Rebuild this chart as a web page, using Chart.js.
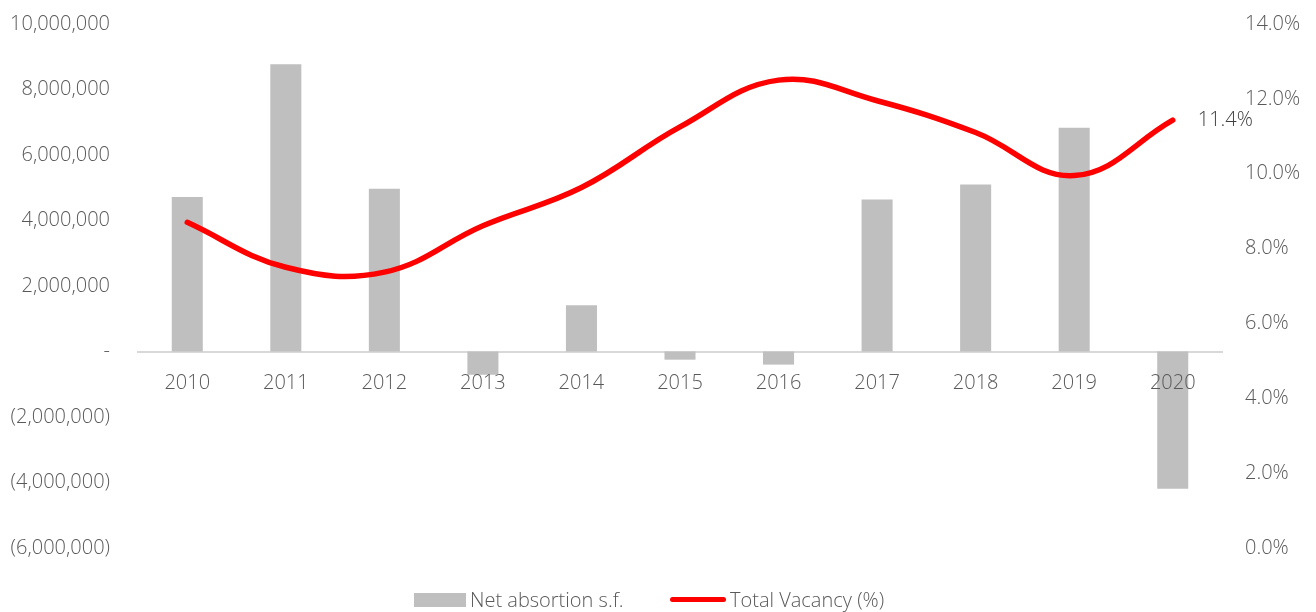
<!DOCTYPE html>
<html>
<head>
<meta charset="utf-8">
<script src="https://cdn.jsdelivr.net/npm/chart.js@4"></script>
<style>
  html, body { margin: 0; padding: 0; background: #ffffff; }
  #wrap { width: 1316px; height: 612px; position: relative; overflow: hidden; }
  #c { position: absolute; left: 0; top: -16px; }
  .lg { position: absolute; font-family: 'Open Sans', 'Liberation Sans', sans-serif; font-weight: 300; font-size: 20px; color: #595959; line-height: 24px; white-space: nowrap; }
  .sw-bar { position: absolute; background: #bfbfbf; width: 52px; height: 14px; }
  .sw-line { position: absolute; background: #ff0000; width: 56px; height: 5px; border-radius: 3px; }
</style>
</head>
<body>
<div id="wrap">
  <canvas id="c" width="1316" height="628"></canvas>
  <div id="legend"></div>
</div>
<script>
const categories = ["2010","2011","2012","2013","2014","2015","2016","2017","2018","2019","2020"];
const netAbsorption = [4720000, 8770000, 4970000, -710000, 1410000, -250000, -400000, 4640000, 5100000, 6830000, -4190000];
const totalVacancy = [8.70, 7.50, 7.37, 8.61, 9.63, 11.25, 12.50, 11.95, 11.10, 9.95, 11.43];
const lastLabel = "11.4%";
const seriesNames = ["Net absortion s.f.", "Total Vacancy (%)"];

const FONT = "'Open Sans', 'Liberation Sans', sans-serif";
const TEXT = "#595959";

function fmtLeft(v) {
  if (v === 0) return "-";
  const s = Math.abs(v).toLocaleString("en-US");
  return v < 0 ? "(" + s + ")" : s;
}

// HTML legend (text kept as real text)
(function buildLegend() {
  const lg = document.getElementById("legend");
  lg.innerHTML =
    '<div class="sw-bar" style="left:414px;top:593px"></div>' +
    '<div class="lg" style="left:470px;top:588px">' + seriesNames[0] + '</div>' +
    '<div class="sw-line" style="left:670px;top:597px"></div>' +
    '<div class="lg" style="left:730px;top:588px">' + seriesNames[1] + '</div>';
})();

const endLabel = {
  id: "endLabel",
  afterDatasetsDraw(chart) {
    const meta = chart.getDatasetMeta(1);
    const pt = meta.data[meta.data.length - 1];
    const ctx = chart.ctx;
    ctx.save();
    ctx.font = "300 20px " + FONT;
    ctx.fillStyle = "#404040";
    ctx.textAlign = "left";
    ctx.textBaseline = "middle";
    ctx.fillText(lastLabel, pt.x + 25, pt.y);
    ctx.restore();
  }
};

new Chart(document.getElementById("c"), {
  type: "bar",
  data: {
    labels: categories,
    datasets: [
      {
        type: "bar",
        label: seriesNames[0],
        data: netAbsorption,
        backgroundColor: "#bfbfbf",
        yAxisID: "y",
        barPercentage: 1,
        categoryPercentage: 0.315,
        order: 2
      },
      {
        type: "line",
        label: seriesNames[1],
        data: totalVacancy,
        borderColor: "#ff0000",
        backgroundColor: "#ff0000",
        borderWidth: 5.5,
        borderCapStyle: "round",
        pointRadius: 0,
        tension: 0.4,
        yAxisID: "y1",
        order: 1
      }
    ]
  },
  options: {
    responsive: false,
    animation: false,
    devicePixelRatio: 1,
    layout: { padding: { top: 8, bottom: 64, left: 0, right: 0 } },
    plugins: {
      tooltip: { enabled: false },
      legend: { display: false }
    },
    scales: {
      x: {
        position: { y: 0 },
        grid: { display: false, drawTicks: false },
        border: { display: true, color: "#d9d9d9", width: 2 },
        ticks: { z: 1, color: TEXT, font: { family: FONT, size: 20, weight: 300 }, padding: 20 }
      },
      y: {
        position: "left",
        min: -6000000, max: 10000000,
        grid: { display: false, drawTicks: false },
        border: { display: false },
        afterFit(s) { s.width = 138; },
        ticks: {
          stepSize: 2000000,
          color: TEXT, font: { family: FONT, size: 20, weight: 300 }, padding: 28,
          callback: (v) => fmtLeft(v)
        }
      },
      y1: {
        position: "right",
        min: 0, max: 14,
        grid: { display: false, drawTicks: false },
        border: { display: false },
        afterFit(s) { s.width = 94; },
        ticks: {
          stepSize: 2,
          color: TEXT, font: { family: FONT, size: 20, weight: 300 }, padding: 23,
          callback: (v) => v.toFixed(1) + "%"
        }
      }
    }
  },
  plugins: [endLabel]
});
</script>
</body>
</html>
